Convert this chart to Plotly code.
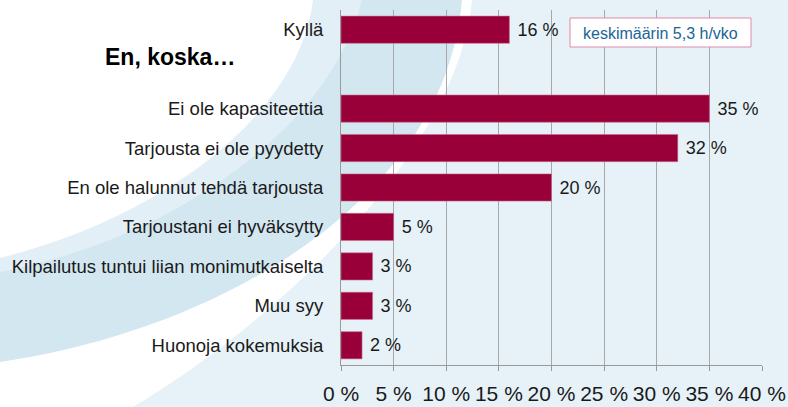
import plotly.graph_objects as go

# data
categories = ["Kyllä", "", "Ei ole kapasiteettia", "Tarjousta ei ole pyydetty",
              "En ole halunnut tehdä tarjousta", "Tarjoustani ei hyväksytty",
              "Kilpailutus tuntui liian monimutkaiselta", "Muu syy", "Huonoja kokemuksia"]
values = [16, None, 35, 32, 20, 5, 3, 3, 2]
tick_vals = [0, 5, 10, 15, 20, 25, 30, 35, 40]
tick_text = ["0 %", "5 %", "10 %", "15 %", "20 %", "25 %", "30 %", "35 %", "40 %"]
group_title = "En, koska…"
note_text = "keskimäärin 5,3 h/vko"

W, H = 788, 407
L, R, T, B = 341, 26, 10, 42
PW, PH = W - L - R, H - T - B

BAR = "#99003a"
WHITE = "#ffffff"
LIGHT = "#e6f2f8"
MID = "#d3e7f1"
FONT = "Liberation Sans, Arial, sans-serif"


def px(x, y):
    """pixel position -> paper coordinates"""
    return (x - L) / PW, (H - B - y) / PH


def path(points):
    parts = []
    for cmd, pts in points:
        coords = " ".join("%.4f,%.4f" % px(*p) for p in pts)
        parts.append(cmd + " " + coords if coords else cmd)
    return " ".join(parts)


# category keys must be unique, the blank slot gets a space
ykeys = [c if c else " " for c in categories]
labels = ["" if v is None else f" {v} %" for v in values]

fig = go.Figure()
fig.add_trace(go.Bar(
    x=values, y=ykeys, orientation="h",
    marker=dict(color=BAR, line=dict(color="#c8708c", width=0.6)),
    text=labels, textposition="outside",
    textfont=dict(size=18, color="#1a1a1a", family=FONT),
    cliponaxis=False, showlegend=False, hoverinfo="skip",
))

# decorative background swooshes (kept inside the page)
shapes = [
    dict(type="path", layer="below", xref="paper", yref="paper", line=dict(width=0), fillcolor=WHITE,
         path=path([("M", [(0, 0)]), ("L", [(472, 0)]),
                    ("C", [(458, 150), (280, 320), (133, 407)]), ("L", [(0, 407)]), ("Z", [])])),
    dict(type="path", layer="below", xref="paper", yref="paper", line=dict(width=0), fillcolor=MID,
         path=path([("M", [(0, 0)]), ("L", [(462, 0)]),
                    ("C", [(445, 200), (220, 330), (0, 362)]), ("Z", [])])),
    dict(type="path", layer="below", xref="paper", yref="paper", line=dict(width=0), fillcolor="#e3eff6",
         path=path([("M", [(0, 0)]), ("L", [(362, 0)]),
                    ("C", [(330, 130), (170, 240), (0, 272)]), ("Z", [])])),
    dict(type="path", layer="below", xref="paper", yref="paper", line=dict(width=0), fillcolor=WHITE,
         path=path([("M", [(0, 0)]), ("L", [(313, 0)]),
                    ("C", [(300, 110), (170, 215), (0, 258)]), ("Z", [])])),
]
bx0, by0 = px(570, 47)
bx1, by1 = px(751, 18)
shapes.append(dict(type="rect", layer="above", xref="paper", yref="paper",
                   x0=bx0, y0=by0, x1=bx1, y1=by1,
                   fillcolor=WHITE, line=dict(color="#e08aaa", width=1)))

tx, ty = px(170, 57)
nx, ny = px(660, 33)
annotations = [
    dict(xref="paper", yref="paper", x=tx, y=ty, text=f"<b>{group_title}</b>", showarrow=False,
         xanchor="center", yanchor="middle", font=dict(size=23, color="#000000", family=FONT)),
    dict(xref="paper", yref="paper", x=nx, y=ny, text=note_text, showarrow=False,
         xanchor="center", yanchor="middle", font=dict(size=16, color="#1b6496", family=FONT)),
]

fig.update_layout(
    width=W, height=H,
    margin=dict(l=L, r=R, t=T, b=B, pad=0, autoexpand=False),
    paper_bgcolor=LIGHT, plot_bgcolor="rgba(0,0,0,0)",
    bargap=0.31,
    shapes=shapes, annotations=annotations,
    font=dict(family=FONT, color="#1a1a1a"),
    xaxis=dict(range=[0, 40], tickvals=tick_vals, ticktext=tick_text, tickangle=0,
               showgrid=True, gridcolor="#a8a8a8", gridwidth=1, zeroline=False,
               showline=True, linecolor="#9a9a9a", linewidth=1,
               ticks="outside", ticklen=5, tickcolor="#9a9a9a", automargin=False,
               tickfont=dict(size=21, color="#1a1a1a"), ticklabelstandoff=5, fixedrange=True),
    yaxis=dict(categoryorder="array", categoryarray=ykeys, autorange="reversed",
               showgrid=False, zeroline=False, showline=True, linecolor="#9a9a9a", linewidth=1,
               ticks="", ticklabelstandoff=13, tickfont=dict(size=18.5, color="#1a1a1a"),
               tickvals=ykeys, ticktext=categories, automargin=False, fixedrange=True),
)

fig.write_html("out.html", config={"displayModeBar": False},
               post_script="document.body.style.margin='0';"
                           "document.body.style.overflow='hidden';"
                           "document.documentElement.style.overflow='hidden';")
